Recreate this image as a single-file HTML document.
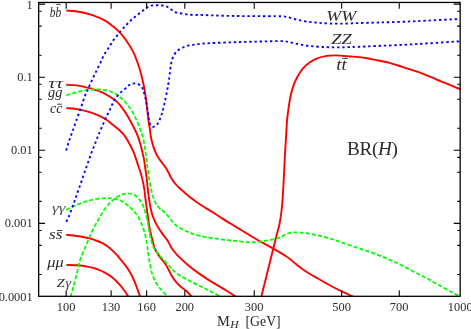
<!DOCTYPE html>
<html><head><meta charset="utf-8"><title>BR(H)</title>
<style>html,body{margin:0;padding:0;background:#fff;overflow:hidden}svg{display:block;will-change:transform}text{font-family:"Liberation Serif",serif;fill:#2a2a2a}.i{font-style:italic}</style></head><body>
<svg width="471" height="329" viewBox="0 0 471 329">
<rect x="0" y="0" width="471" height="329" fill="#fff"/>
<defs><clipPath id="c"><rect x="38.65" y="2.45" width="421.50" height="293.85"/></clipPath></defs>
<g clip-path="url(#c)" fill="none" stroke-linejoin="round">
<path d="M66.30 10.60C68.65 10.83 75.92 11.22 80.40 12.00C84.88 12.78 89.15 13.90 93.20 15.30C97.25 16.70 101.30 18.48 104.70 20.40C108.10 22.32 111.05 24.75 113.60 26.80C116.15 28.85 117.87 30.37 120.00 32.70C122.13 35.03 124.27 37.73 126.40 40.80C128.53 43.87 131.10 47.90 132.80 51.10C134.50 54.30 135.33 56.60 136.60 60.00C137.87 63.40 139.25 67.45 140.40 71.50C141.55 75.55 142.65 80.27 143.50 84.30C144.35 88.33 144.90 91.67 145.50 95.70C146.10 99.73 146.58 104.23 147.10 108.50C147.62 112.77 148.12 117.72 148.60 121.30C149.08 124.88 149.67 127.70 150.00 130.00C150.33 132.30 150.28 133.18 150.60 135.10C150.92 137.02 151.37 139.37 151.90 141.50C152.43 143.63 153.05 145.77 153.80 147.90C154.55 150.03 155.43 152.38 156.40 154.30C157.37 156.22 158.43 157.70 159.60 159.40C160.77 161.10 162.23 162.90 163.40 164.50C164.57 166.10 165.32 166.80 166.60 169.00C167.88 171.20 169.62 175.20 171.10 177.70C172.58 180.20 174.02 182.20 175.50 184.00C176.98 185.80 177.77 186.47 180.00 188.50C182.23 190.53 185.72 193.65 188.90 196.20C192.08 198.75 195.27 201.20 199.10 203.80C202.93 206.40 208.07 209.37 211.90 211.80C215.73 214.23 219.08 216.48 222.10 218.40C225.12 220.32 226.77 221.32 230.00 223.30C233.23 225.28 237.45 227.85 241.50 230.30C245.55 232.75 250.05 235.53 254.30 238.00C258.55 240.47 263.18 242.95 267.00 245.10C270.82 247.25 274.22 249.17 277.20 250.90C280.18 252.63 282.77 254.15 284.90 255.50C287.03 256.85 288.27 257.67 290.00 259.00C291.73 260.33 292.72 261.47 295.30 263.50C297.88 265.53 301.67 268.65 305.50 271.20C309.33 273.75 314.03 276.33 318.30 278.80C322.57 281.27 326.85 283.73 331.10 286.00C335.35 288.27 339.82 290.50 343.80 292.40C347.78 294.30 353.13 296.57 355.00 297.40" stroke="#ff0000" stroke-width="1.9"/>
<path d="M66.30 84.80C68.33 84.93 74.33 84.95 78.50 85.60C82.67 86.25 87.05 87.42 91.30 88.70C95.55 89.98 100.17 91.48 104.00 93.30C107.83 95.12 111.63 97.62 114.30 99.60C116.97 101.58 117.98 102.78 120.00 105.20C122.02 107.62 124.27 110.70 126.40 114.10C128.53 117.50 131.35 122.95 132.80 125.60C134.25 128.25 134.25 128.20 135.10 130.00C135.95 131.80 137.02 134.07 137.90 136.40C138.78 138.73 139.67 141.45 140.40 144.00C141.13 146.55 141.70 149.13 142.30 151.70C142.90 154.27 143.53 156.85 144.00 159.40C144.47 161.95 144.85 165.23 145.10 167.00C145.35 168.77 145.22 168.02 145.50 170.00C145.78 171.98 146.42 175.72 146.80 178.90C147.18 182.08 147.42 185.68 147.80 189.10C148.18 192.52 148.67 196.42 149.10 199.40C149.53 202.38 150.03 205.07 150.40 207.00C150.77 208.93 150.88 209.43 151.30 211.00C151.72 212.57 152.18 214.43 152.90 216.40C153.62 218.37 154.55 220.68 155.60 222.80C156.65 224.92 157.93 227.08 159.20 229.10C160.47 231.12 161.93 233.18 163.20 234.90C164.47 236.62 165.70 237.80 166.80 239.40C167.90 241.00 168.88 242.90 169.80 244.50C170.72 246.10 171.02 247.20 172.30 249.00C173.58 250.80 174.90 252.65 177.50 255.30C180.10 257.95 184.05 261.68 187.90 264.90C191.75 268.12 196.35 271.60 200.60 274.60C204.85 277.60 209.13 280.25 213.40 282.90C217.67 285.55 222.30 288.12 226.20 290.50C230.10 292.88 235.03 296.08 236.80 297.20" stroke="#ff0000" stroke-width="1.9"/>
<path d="M66.30 108.10C68.33 108.32 74.33 108.63 78.50 109.40C82.67 110.17 87.05 111.22 91.30 112.70C95.55 114.18 100.17 116.08 104.00 118.30C107.83 120.52 111.53 123.83 114.30 126.00C117.07 128.17 118.80 129.57 120.60 131.30C122.40 133.03 123.60 134.28 125.10 136.40C126.60 138.52 128.22 141.45 129.60 144.00C130.98 146.55 132.23 148.93 133.40 151.70C134.57 154.47 135.65 157.83 136.60 160.60C137.55 163.37 138.57 166.73 139.10 168.30C139.63 169.87 139.27 168.23 139.80 170.00C140.33 171.77 141.55 175.72 142.30 178.90C143.05 182.08 143.77 185.68 144.30 189.10C144.83 192.52 145.12 196.42 145.50 199.40C145.88 202.38 146.33 205.07 146.60 207.00C146.87 208.93 146.85 209.22 147.10 211.00C147.35 212.78 147.77 215.32 148.10 217.70C148.43 220.08 148.68 222.75 149.10 225.30C149.52 227.85 150.02 230.45 150.60 233.00C151.18 235.55 151.92 238.02 152.60 240.60C153.28 243.18 153.57 245.87 154.70 248.50C155.83 251.13 157.77 254.02 159.40 256.40C161.03 258.78 163.02 260.68 164.50 262.80C165.98 264.92 167.13 266.98 168.30 269.10C169.47 271.22 170.22 273.37 171.50 275.50C172.78 277.63 174.40 279.98 176.00 281.90C177.60 283.82 179.40 285.52 181.10 287.00C182.80 288.48 184.35 289.10 186.20 290.80C188.05 292.50 191.20 296.13 192.20 297.20" stroke="#ff0000" stroke-width="1.9"/>
<path d="M66.30 234.80C68.02 235.00 72.75 235.43 76.60 236.00C80.45 236.57 86.33 237.52 89.40 238.20C92.47 238.88 93.00 239.35 95.00 240.10C97.00 240.85 99.27 241.63 101.40 242.70C103.53 243.77 105.68 244.92 107.80 246.50C109.92 248.08 111.98 250.07 114.10 252.20C116.22 254.33 118.58 257.07 120.50 259.30C122.42 261.53 124.10 263.58 125.60 265.60C127.10 267.62 128.30 269.42 129.50 271.40C130.70 273.38 131.62 274.92 132.80 277.50C133.98 280.08 135.43 283.83 136.60 286.90C137.77 289.97 139.18 294.15 139.80 295.90C140.42 297.65 140.22 297.15 140.30 297.40" stroke="#ff0000" stroke-width="1.9"/>
<path d="M66.30 264.90C68.33 264.97 74.55 264.93 78.50 265.30C82.45 265.67 86.80 266.43 90.00 267.10C93.20 267.77 95.15 268.33 97.70 269.30C100.25 270.27 102.75 271.45 105.30 272.90C107.85 274.35 110.65 276.08 113.00 278.00C115.35 279.92 117.48 282.28 119.40 284.40C121.32 286.52 122.97 288.57 124.50 290.70C126.03 292.83 127.92 296.12 128.60 297.20" stroke="#ff0000" stroke-width="1.9"/>
<path d="M261.20 297.20C261.75 294.98 263.32 288.67 264.50 283.90C265.68 279.13 267.03 273.70 268.30 268.60C269.57 263.50 270.83 258.40 272.10 253.30C273.37 248.20 274.68 242.80 275.90 238.00C277.12 233.20 278.47 229.00 279.40 224.50C280.33 220.00 280.97 215.30 281.50 211.00C282.03 206.70 282.28 202.87 282.60 198.70C282.92 194.53 283.13 190.68 283.40 186.00C283.67 181.32 283.95 175.72 284.20 170.60C284.45 165.48 284.60 160.73 284.90 155.30C285.20 149.87 285.65 143.70 286.00 138.00C286.35 132.30 286.58 126.05 287.00 121.10C287.42 116.15 287.88 112.57 288.50 108.30C289.12 104.03 289.80 99.48 290.70 95.50C291.60 91.52 292.75 87.57 293.90 84.40C295.05 81.23 296.15 79.10 297.60 76.50C299.05 73.90 300.72 71.03 302.60 68.80C304.48 66.57 306.57 64.80 308.90 63.10C311.23 61.40 313.62 59.80 316.60 58.60C319.58 57.40 323.40 56.43 326.80 55.90C330.20 55.37 333.60 55.33 337.00 55.40C340.40 55.47 344.87 56.12 347.20 56.30C349.53 56.48 348.23 56.27 351.00 56.50C353.77 56.73 359.55 57.10 363.80 57.70C368.05 58.30 372.25 59.23 376.50 60.10C380.75 60.97 385.03 61.78 389.30 62.90C393.57 64.02 397.85 65.47 402.10 66.80C406.35 68.13 411.18 69.67 414.80 70.90C418.42 72.13 420.18 72.77 423.80 74.20C427.42 75.63 432.25 77.75 436.50 79.50C440.75 81.25 445.22 83.03 449.30 84.70C453.38 86.37 459.05 88.70 461.00 89.50" stroke="#ff0000" stroke-width="1.9"/>
<path d="M66.30 95.30C67.92 94.80 72.68 93.15 76.00 92.30C79.32 91.45 82.80 90.68 86.20 90.20C89.60 89.72 93.00 89.37 96.40 89.40C99.80 89.43 103.67 89.80 106.60 90.40C109.53 91.00 111.77 91.87 114.00 93.00C116.23 94.13 118.00 95.53 120.00 97.20C122.00 98.87 123.98 100.62 126.00 103.00C128.02 105.38 130.35 108.67 132.10 111.50C133.85 114.33 135.12 116.92 136.50 120.00C137.88 123.08 139.37 127.27 140.40 130.00C141.43 132.73 142.05 134.07 142.70 136.40C143.35 138.73 143.83 141.45 144.30 144.00C144.77 146.55 145.12 149.13 145.50 151.70C145.88 154.27 146.28 156.63 146.60 159.40C146.92 162.17 147.20 166.53 147.40 168.30C147.60 170.07 147.52 168.43 147.80 170.00C148.08 171.57 148.63 174.93 149.10 177.70C149.57 180.47 150.02 183.63 150.60 186.60C151.18 189.57 151.75 192.73 152.60 195.50C153.45 198.27 154.53 201.07 155.70 203.20C156.87 205.33 158.53 207.17 159.60 208.30C160.67 209.43 160.83 208.87 162.10 210.00C163.37 211.13 165.50 213.18 167.20 215.10C168.90 217.02 170.55 219.60 172.30 221.50C174.05 223.40 175.10 224.77 177.70 226.50C180.30 228.23 184.08 230.32 187.90 231.90C191.72 233.48 195.92 234.88 200.60 236.00C205.28 237.12 210.88 237.85 216.00 238.60C221.12 239.35 226.20 239.92 231.30 240.50C236.40 241.08 242.35 241.83 246.60 242.10C250.85 242.37 253.40 242.37 256.80 242.10C260.20 241.83 263.60 241.10 267.00 240.50C270.40 239.90 274.82 239.13 277.20 238.50C279.58 237.87 279.77 237.47 281.30 236.70C282.83 235.93 284.48 234.60 286.40 233.90C288.32 233.20 290.47 232.72 292.80 232.50C295.13 232.28 297.43 232.37 300.40 232.60C303.37 232.83 307.20 233.32 310.60 233.90C314.00 234.48 317.38 235.27 320.80 236.10C324.22 236.93 327.27 237.73 331.10 238.90C334.93 240.07 339.20 241.53 343.80 243.10C348.40 244.67 354.43 246.85 358.70 248.30C362.97 249.75 365.50 250.42 369.40 251.80C373.30 253.18 378.28 255.07 382.10 256.60C385.92 258.13 388.97 259.52 392.30 261.00C395.63 262.48 398.35 263.60 402.10 265.50C405.85 267.40 410.55 270.18 414.80 272.40C419.05 274.62 423.33 276.53 427.60 278.80C431.87 281.07 436.15 283.65 440.40 286.00C444.65 288.35 449.75 291.10 453.10 292.90C456.45 294.70 459.27 296.15 460.50 296.80" stroke="#00ff00" stroke-width="1.75" stroke-dasharray="4.25 1.95"/>
<path d="M66.30 210.00C67.48 209.38 70.93 207.43 73.40 206.30C75.87 205.17 78.12 204.25 81.10 203.20C84.08 202.15 87.68 200.82 91.30 200.00C94.92 199.18 99.40 198.58 102.80 198.30C106.20 198.02 108.88 197.98 111.70 198.30C114.52 198.62 117.47 199.38 119.70 200.20C121.93 201.02 123.35 201.95 125.10 203.20C126.85 204.45 128.82 206.48 130.20 207.70C131.58 208.92 132.12 209.05 133.40 210.50C134.68 211.95 136.52 214.15 137.90 216.40C139.28 218.65 140.63 221.45 141.70 224.00C142.77 226.55 143.55 229.13 144.30 231.70C145.05 234.27 145.68 236.85 146.20 239.40C146.72 241.95 147.12 245.02 147.40 247.00C147.68 248.98 147.62 249.32 147.90 251.30C148.18 253.28 148.68 256.35 149.10 258.90C149.52 261.45 149.87 264.03 150.40 266.60C150.93 269.17 151.45 271.75 152.30 274.30C153.15 276.85 154.32 279.67 155.50 281.90C156.68 284.13 158.12 286.02 159.40 287.70C160.68 289.38 161.77 290.42 163.20 292.00C164.63 293.58 167.20 296.33 168.00 297.20" stroke="#00ff00" stroke-width="1.75" stroke-dasharray="4.25 1.95"/>
<path d="M70.60 297.20C71.10 295.32 72.53 289.92 73.60 285.90C74.67 281.88 75.93 277.37 77.00 273.10C78.07 268.83 79.02 263.73 80.00 260.30C80.98 256.87 81.98 254.73 82.90 252.50C83.82 250.27 84.47 249.32 85.50 246.90C86.53 244.48 87.82 240.98 89.10 238.00C90.38 235.02 91.77 231.88 93.20 229.00C94.63 226.12 96.32 223.17 97.70 220.70C99.08 218.23 100.20 216.32 101.50 214.20C102.80 212.08 103.98 209.98 105.50 208.00C107.02 206.02 109.10 203.78 110.60 202.30C112.10 200.82 113.22 200.10 114.50 199.10C115.78 198.10 116.82 197.13 118.30 196.30C119.78 195.47 121.70 194.57 123.40 194.10C125.10 193.63 126.80 193.45 128.50 193.50C130.20 193.55 132.12 193.78 133.60 194.40C135.08 195.02 136.33 196.20 137.40 197.20C138.47 198.20 139.28 199.50 140.00 200.40C140.72 201.30 141.10 201.50 141.70 202.60C142.30 203.70 143.07 205.60 143.60 207.00C144.13 208.40 144.37 209.22 144.90 211.00C145.43 212.78 146.23 215.32 146.80 217.70C147.37 220.08 147.83 222.75 148.30 225.30C148.77 227.85 149.10 230.45 149.60 233.00C150.10 235.55 150.67 238.27 151.30 240.60C151.93 242.93 152.58 245.22 153.40 247.00C154.22 248.78 155.00 249.70 156.20 251.30C157.40 252.90 158.80 254.55 160.60 256.60C162.40 258.65 165.08 261.50 167.00 263.60C168.92 265.70 170.43 267.53 172.10 269.20C173.77 270.87 174.77 272.00 177.00 273.60C179.23 275.20 182.67 277.22 185.50 278.80C188.33 280.38 191.15 281.68 194.00 283.10C196.85 284.52 199.75 285.88 202.60 287.30C205.45 288.72 207.90 289.95 211.10 291.60C214.30 293.25 220.02 296.27 221.80 297.20" stroke="#00ff00" stroke-width="1.75" stroke-dasharray="4.25 1.95"/>
<path d="M66.10 150.40C66.38 149.48 67.25 146.63 67.80 144.90C68.35 143.17 68.85 141.63 69.40 140.00C69.95 138.37 70.52 136.70 71.10 135.10C71.68 133.50 72.05 132.78 72.90 130.40C73.75 128.02 74.82 124.73 76.20 120.80C77.58 116.87 79.73 110.95 81.20 106.80C82.67 102.65 84.03 98.47 85.00 95.90C85.97 93.33 86.33 92.93 87.00 91.40C87.67 89.87 88.30 88.30 89.00 86.70C89.70 85.10 90.48 83.37 91.20 81.80C91.92 80.23 92.57 78.83 93.30 77.30C94.03 75.77 94.83 74.18 95.60 72.60C96.37 71.02 97.10 69.42 97.90 67.80C98.70 66.18 99.63 64.53 100.40 62.90C101.17 61.27 101.78 59.52 102.50 58.00C103.22 56.48 103.85 55.23 104.70 53.80C105.55 52.37 106.65 50.88 107.60 49.40C108.55 47.92 109.47 46.40 110.40 44.90C111.33 43.40 112.20 41.78 113.20 40.40C114.20 39.02 115.37 37.92 116.40 36.60C117.43 35.28 118.33 33.82 119.40 32.50C120.47 31.18 121.63 29.97 122.80 28.70C123.97 27.43 125.17 26.18 126.40 24.90C127.63 23.62 128.97 22.17 130.20 21.00C131.43 19.83 132.55 18.95 133.80 17.90C135.05 16.85 136.38 15.77 137.70 14.70C139.02 13.63 140.32 12.57 141.70 11.50C143.08 10.43 144.55 9.25 146.00 8.30C147.45 7.35 148.82 6.30 150.40 5.80C151.98 5.30 153.80 5.37 155.50 5.30C157.20 5.23 158.90 5.28 160.60 5.40C162.30 5.52 164.12 5.45 165.70 6.00C167.28 6.55 168.65 7.73 170.10 8.70C171.55 9.67 172.90 11.07 174.40 11.80C175.90 12.53 177.45 12.73 179.10 13.10C180.75 13.47 182.58 13.73 184.30 14.00C186.02 14.27 187.70 14.53 189.40 14.70C191.10 14.87 192.73 14.97 194.50 15.00C196.27 15.03 196.58 14.82 200.00 14.90C203.42 14.98 209.90 15.33 215.00 15.50C220.10 15.67 225.60 15.80 230.60 15.90C235.60 16.00 240.03 16.05 245.00 16.10C249.97 16.15 255.28 16.18 260.40 16.20C265.52 16.22 271.93 16.18 275.70 16.20C279.47 16.22 281.05 16.15 283.00 16.30C284.95 16.45 285.80 16.75 287.40 17.10C289.00 17.45 290.88 17.93 292.60 18.40C294.32 18.87 296.00 19.47 297.70 19.90C299.40 20.33 301.10 20.70 302.80 21.00C304.50 21.30 306.20 21.48 307.90 21.70C309.60 21.92 311.30 22.12 313.00 22.30C314.70 22.48 316.50 22.67 318.10 22.80C319.70 22.93 320.62 22.98 322.60 23.10C324.58 23.22 327.25 23.40 330.00 23.50C332.75 23.60 336.10 23.70 339.10 23.70C342.10 23.70 344.80 23.60 348.00 23.50C351.20 23.40 353.18 23.27 358.30 23.10C363.42 22.93 371.40 22.72 378.70 22.50C386.00 22.28 393.95 22.12 402.10 21.80C410.25 21.48 418.25 21.05 427.60 20.60C436.95 20.15 452.63 19.37 458.20 19.10C463.77 18.83 460.53 19.02 461.00 19.00" stroke="#0000ff" stroke-width="1.85" stroke-dasharray="2.4 2.8"/>
<path d="M66.30 221.80C66.70 220.98 67.85 218.93 68.70 216.90C69.55 214.87 70.50 212.03 71.40 209.60C72.30 207.17 73.37 204.30 74.10 202.30C74.83 200.30 75.22 199.25 75.80 197.60C76.38 195.95 77.02 194.05 77.60 192.40C78.18 190.75 78.75 189.28 79.30 187.70C79.85 186.12 80.33 184.55 80.90 182.90C81.47 181.25 82.12 179.47 82.70 177.80C83.28 176.13 83.85 174.53 84.40 172.90C84.95 171.27 85.43 169.62 86.00 168.00C86.57 166.38 87.22 164.82 87.80 163.20C88.38 161.58 88.95 159.90 89.50 158.30C90.05 156.70 90.52 155.18 91.10 153.60C91.68 152.02 92.35 150.43 93.00 148.80C93.65 147.17 94.35 145.45 95.00 143.80C95.65 142.15 96.27 140.50 96.90 138.90C97.53 137.30 98.18 135.68 98.80 134.20C99.42 132.72 99.55 132.45 100.60 130.00C101.65 127.55 104.03 121.93 105.10 119.50C106.17 117.07 106.32 116.78 107.00 115.40C107.68 114.02 108.50 112.65 109.20 111.20C109.90 109.75 110.50 108.20 111.20 106.70C111.90 105.20 112.60 103.68 113.40 102.20C114.20 100.72 114.93 99.28 116.00 97.80C117.07 96.32 118.42 94.68 119.80 93.30C121.18 91.92 122.88 90.77 124.30 89.50C125.72 88.23 127.00 86.67 128.30 85.70C129.60 84.73 130.62 84.03 132.10 83.70C133.58 83.37 135.70 83.25 137.20 83.70C138.70 84.15 140.13 85.45 141.10 86.40C142.07 87.35 142.27 87.42 143.00 89.40C143.73 91.38 144.78 95.12 145.50 98.30C146.22 101.48 146.75 105.10 147.30 108.50C147.85 111.90 148.25 115.93 148.80 118.70C149.35 121.47 149.87 123.73 150.60 125.10C151.33 126.47 152.03 127.12 153.20 126.90C154.37 126.68 156.22 125.80 157.60 123.80C158.98 121.80 160.35 118.30 161.50 114.90C162.65 111.50 163.57 107.45 164.50 103.40C165.43 99.35 166.45 93.92 167.10 90.60C167.75 87.28 168.02 85.83 168.40 83.50C168.78 81.17 169.12 78.75 169.40 76.60C169.68 74.45 169.87 72.45 170.10 70.60C170.33 68.75 170.50 67.20 170.80 65.50C171.10 63.80 171.40 62.07 171.90 60.40C172.40 58.73 173.00 57.00 173.80 55.50C174.60 54.00 175.53 52.57 176.70 51.40C177.87 50.23 179.35 49.33 180.80 48.50C182.25 47.67 183.78 46.95 185.40 46.40C187.02 45.85 188.80 45.53 190.50 45.20C192.20 44.87 193.90 44.63 195.60 44.40C197.30 44.17 198.95 43.97 200.70 43.80C202.45 43.63 203.67 43.55 206.10 43.40C208.53 43.25 210.98 43.08 215.30 42.90C219.62 42.72 227.05 42.47 232.00 42.30C236.95 42.13 240.77 42.02 245.00 41.90C249.23 41.78 253.23 41.70 257.40 41.60C261.57 41.50 265.63 41.38 270.00 41.30C274.37 41.22 280.55 40.98 283.60 41.10C286.65 41.22 286.67 41.68 288.30 42.00C289.93 42.32 291.68 42.63 293.40 43.00C295.12 43.37 296.88 43.85 298.60 44.20C300.32 44.55 302.00 44.82 303.70 45.10C305.40 45.38 307.15 45.68 308.80 45.90C310.45 46.12 311.30 46.22 313.60 46.40C315.90 46.58 319.87 46.85 322.60 47.00C325.33 47.15 327.25 47.23 330.00 47.30C332.75 47.37 336.10 47.42 339.10 47.40C342.10 47.38 344.80 47.30 348.00 47.20C351.20 47.10 353.60 47.00 358.30 46.80C363.00 46.60 368.90 46.32 376.20 46.00C383.50 45.68 393.53 45.33 402.10 44.90C410.67 44.47 418.25 43.98 427.60 43.40C436.95 42.82 452.63 41.75 458.20 41.40C463.77 41.05 460.53 41.32 461.00 41.30" stroke="#0000ff" stroke-width="1.85" stroke-dasharray="2.4 2.8"/>
</g>
<g stroke="#000" fill="none">
<rect x="38.65" y="2.45" width="421.50" height="293.85" stroke-width="1.3"/>
<path d="M66.20 296.30v-6.1M66.20 2.45v6.2M111.11 296.30v-6.1M111.11 2.45v6.2M146.64 296.30v-6.1M146.64 2.45v6.2M184.84 296.30v-6.1M184.84 2.45v6.2M254.23 296.30v-6.1M254.23 2.45v6.2M341.66 296.30v-6.1M341.66 2.45v6.2M399.25 296.30v-6.1M399.25 2.45v6.2M38.65 4.15h6.4M460.15 4.15h-6.4M38.65 11.23h3.0M460.15 11.23h-3.0M38.65 26.15h3.0M460.15 26.15h-3.0M38.65 55.22h3.0M460.15 55.22h-3.0M38.65 77.22h6.4M460.15 77.22h-6.4M38.65 84.30h3.0M460.15 84.30h-3.0M38.65 99.22h3.0M460.15 99.22h-3.0M38.65 128.29h3.0M460.15 128.29h-3.0M38.65 150.29h6.4M460.15 150.29h-6.4M38.65 157.37h3.0M460.15 157.37h-3.0M38.65 172.29h3.0M460.15 172.29h-3.0M38.65 201.36h3.0M460.15 201.36h-3.0M38.65 223.36h6.4M460.15 223.36h-6.4M38.65 230.44h3.0M460.15 230.44h-3.0M38.65 245.36h3.0M460.15 245.36h-3.0M38.65 274.43h3.0M460.15 274.43h-3.0" stroke-width="1.1"/>
</g>
<text x="32.7" y="9.15" font-size="12.4" text-anchor="end">1</text>
<text x="32.7" y="81.32" font-size="12.4" text-anchor="end">0.1</text>
<text x="32.7" y="154.39" font-size="12.4" text-anchor="end">0.01</text>
<text x="32.7" y="227.46" font-size="12.4" text-anchor="end">0.001</text>
<text x="32.7" y="300.53" font-size="12.4" text-anchor="end">0.0001</text>
<text x="66.10" y="310.6" font-size="12.4" text-anchor="middle">100</text>
<text x="111.01" y="310.6" font-size="12.4" text-anchor="middle">130</text>
<text x="146.54" y="310.6" font-size="12.4" text-anchor="middle">160</text>
<text x="184.74" y="310.6" font-size="12.4" text-anchor="middle">200</text>
<text x="254.13" y="310.6" font-size="12.4" text-anchor="middle">300</text>
<text x="341.56" y="310.6" font-size="12.4" text-anchor="middle">500</text>
<text x="399.15" y="310.6" font-size="12.4" text-anchor="middle">700</text>
<text x="460.20" y="310.6" font-size="12.4" text-anchor="middle">1000</text>
<text x="217.0" y="326.4" font-size="14.6" textLength="12.8" lengthAdjust="spacingAndGlyphs">M</text><text class="i" x="230.3" y="328.1" font-size="10.6" textLength="8.4" lengthAdjust="spacingAndGlyphs">H</text><text x="245.5" y="326.4" font-size="14.8" textLength="35.2" lengthAdjust="spacingAndGlyphs">[GeV]</text>
<text x="347.0" y="154.9" font-size="19.2" textLength="50.8" lengthAdjust="spacing">BR(<tspan class="i">H</tspan>)</text>
<text class="i" x="49.80" y="16.80" font-size="14.4" textLength="11.50" lengthAdjust="spacingAndGlyphs">bb</text><path d="M56.20 4.40H60.60" stroke="#111" stroke-width="0.8" fill="none"/>
<text class="i" x="48.30" y="87.80" font-size="14.4" textLength="14.80" lengthAdjust="spacingAndGlyphs">&#964;&#964;</text>
<text class="i" x="48.00" y="97.20" font-size="14.4" textLength="14.30" lengthAdjust="spacingAndGlyphs">gg</text>
<text class="i" x="50.00" y="113.20" font-size="14.4" textLength="12.40" lengthAdjust="spacingAndGlyphs">cc</text><path d="M57.20 104.20H62.00" stroke="#111" stroke-width="0.8" fill="none"/>
<text class="i" x="51.90" y="212.00" font-size="11.7" textLength="13.50" lengthAdjust="spacingAndGlyphs" style="fill:#555">&#947;&#947;</text>
<text class="i" x="49.00" y="239.00" font-size="14.4" textLength="13.40" lengthAdjust="spacingAndGlyphs">ss</text><path d="M57.00 230.50H62.30" stroke="#111" stroke-width="0.8" fill="none"/>
<text class="i" x="47.30" y="266.80" font-size="13.8" textLength="16.40" lengthAdjust="spacingAndGlyphs">&#956;&#956;</text>
<text class="i" x="56.40" y="286.70" font-size="12.6" textLength="8.30" lengthAdjust="spacingAndGlyphs">Z</text>
<text class="i" x="65.60" y="286.70" font-size="12.4" textLength="5.60" lengthAdjust="spacingAndGlyphs" style="fill:#444">&#947;</text>
<text class="i" x="326.20" y="21.20" font-size="15.4" textLength="30.00" lengthAdjust="spacingAndGlyphs">WW</text>
<text class="i" x="331.30" y="43.50" font-size="15.4" textLength="20.50" lengthAdjust="spacingAndGlyphs">ZZ</text>
<text class="i" x="336.30" y="69.90" font-size="16.2" textLength="10.40" lengthAdjust="spacingAndGlyphs">tt</text><path d="M342.30 58.50H347.70" stroke="#111" stroke-width="0.8" fill="none"/>
</svg></body></html>
